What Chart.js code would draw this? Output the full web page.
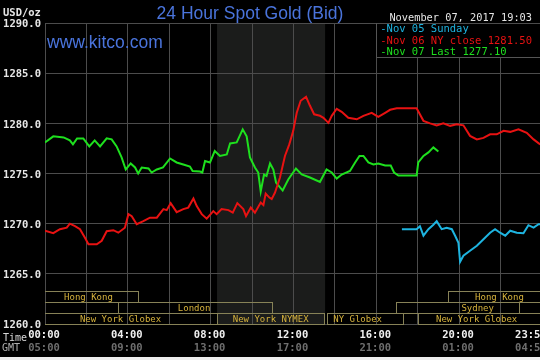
<!DOCTYPE html>
<html>
<head>
<meta charset="utf-8">
<script src="https://cdn.jsdelivr.net/npm/chart.js@4.4.0/dist/chart.umd.min.js"></script>
<style>
  html, body { margin: 0; padding: 0; background: #000; }
  #wrap { width: 540px; height: 360px; }
</style>
</head>
<body>
<div id="wrap"><canvas id="goldChart" width="540" height="360"></canvas></div>
<script>
// hours after 00:00 New York time, bid price in USD/oz
const sundayHours  = [17.24, 17.95, 18.11, 18.28, 18.52, 18.76, 18.92, 19.16, 19.4, 19.65, 19.81, 19.97, 20.05, 20.21, 20.53, 20.86, 21.18, 21.5, 21.74, 21.98, 22.23, 22.47, 22.79, 23.11, 23.35, 23.6, 23.84, 23.92];
const sundayPrices = [1269.45, 1269.45, 1269.75, 1268.8, 1269.45, 1269.9, 1270.25, 1269.45, 1269.6, 1269.45, 1268.8, 1268.1, 1266.2, 1266.8, 1267.3, 1267.8, 1268.45, 1269.1, 1269.45, 1269.1, 1268.8, 1269.3, 1269.1, 1269.05, 1269.85, 1269.6, 1269.95, 1269.95];

const mondayHours  = [0, 0.4, 0.72, 1.05, 1.2, 1.45, 1.69, 1.93, 2.1, 2.5, 2.74, 2.98, 3.3, 3.54, 3.86, 4.03, 4.19, 4.43, 4.75, 5.07, 5.4, 5.72, 5.88, 6.07, 6.36, 6.68, 6.92, 7.17, 7.33, 7.57, 7.81, 8.13, 8.29, 8.53, 8.86, 9.07, 9.29, 9.58, 9.71, 9.94, 10.14, 10.42, 10.55, 10.66, 10.84, 10.95, 11.11, 11.35, 11.59, 11.8, 11.99, 12.16, 12.35, 12.61, 12.8, 13.0, 13.28, 13.45, 13.69, 13.85, 14.09, 14.33, 14.65, 15.06, 15.38, 15.78, 16.1, 16.43, 16.67, 16.99, 17.95, 18.28, 18.6, 18.92, 19.24, 19.57, 19.89, 20.21, 20.53, 20.86, 21.18, 21.5, 21.82, 22.15, 22.47, 22.87, 23.27, 23.6, 23.92];
const mondayPrices = [1269.3, 1269.05, 1269.45, 1269.6, 1270.0, 1269.75, 1269.45, 1268.6, 1267.95, 1267.95, 1268.3, 1269.25, 1269.35, 1269.1, 1269.6, 1270.95, 1270.75, 1269.95, 1270.25, 1270.6, 1270.6, 1271.45, 1271.35, 1272.05, 1271.15, 1271.45, 1271.6, 1272.5, 1271.75, 1270.95, 1270.5, 1271.25, 1270.95, 1271.45, 1271.35, 1271.1, 1272.05, 1271.45, 1270.75, 1271.6, 1271.1, 1272.1, 1271.85, 1273.0, 1272.6, 1272.45, 1273.1, 1274.6, 1276.75, 1277.9, 1279.25, 1281.05, 1282.25, 1282.65, 1281.75, 1280.9, 1280.75, 1280.55, 1280.05, 1280.75, 1281.45, 1281.15, 1280.55, 1280.4, 1280.75, 1281.05, 1280.65, 1281.05, 1281.35, 1281.5, 1281.5, 1280.25, 1280.0, 1279.8, 1280.0, 1279.75, 1279.9, 1279.8, 1278.75, 1278.4, 1278.55, 1278.9, 1278.9, 1279.25, 1279.15, 1279.4, 1279.05, 1278.4, 1277.9];

const tuesdayHours  = [0, 0.4, 0.9, 1.2, 1.35, 1.55, 1.85, 2.14, 2.4, 2.66, 2.98, 3.22, 3.46, 3.7, 3.9, 4.14, 4.35, 4.5, 4.67, 5.0, 5.15, 5.4, 5.7, 6.04, 6.36, 6.68, 7.0, 7.13, 7.49, 7.6, 7.73, 7.97, 8.2, 8.45, 8.78, 8.94, 9.26, 9.55, 9.74, 9.9, 10.14, 10.3, 10.42, 10.58, 10.7, 10.87, 11.03, 11.16, 11.48, 11.75, 12.12, 12.4, 12.8, 13.28, 13.6, 13.85, 14.09, 14.33, 14.73, 14.98, 15.19, 15.38, 15.62, 15.86, 16.1, 16.43, 16.7, 16.86, 17.07, 17.95, 18.03, 18.28, 18.52, 18.76, 19.0];
const tuesdayPrices = [1278.1, 1278.7, 1278.6, 1278.3, 1277.9, 1278.5, 1278.5, 1277.7, 1278.3, 1277.7, 1278.5, 1278.4, 1277.7, 1276.6, 1275.4, 1276.0, 1275.6, 1275.0, 1275.6, 1275.5, 1275.1, 1275.4, 1275.6, 1276.5, 1276.1, 1275.9, 1275.7, 1275.25, 1275.2, 1275.1, 1276.25, 1276.1, 1277.25, 1276.75, 1276.9, 1278.0, 1278.1, 1279.4, 1278.7, 1276.6, 1275.6, 1275.1, 1273.2, 1274.9, 1274.75, 1276.0, 1275.4, 1274.1, 1273.3, 1274.4, 1275.5, 1274.9, 1274.6, 1274.15, 1275.4, 1275.1, 1274.5, 1274.9, 1275.25, 1276.1, 1276.75, 1276.75, 1276.1, 1275.9, 1276.0, 1275.8, 1275.8, 1275.1, 1274.8, 1274.8, 1276.1, 1276.75, 1277.1, 1277.6, 1277.2];

const seriesNames  = ['Nov 05 Sunday', 'Nov 06 NY close 1281.50', 'Nov 07 Last 1277.10'];
const seriesColors = ['#1eb4e0', '#e81212', '#1ee01e'];

const priceTicks = [1260, 1265, 1270, 1275, 1280, 1285, 1290];
const timeTickHours = [0, 4, 8, 12, 16, 20, 24];
const timeLabels = ['00:00', '04:00', '08:00', '12:00', '16:00', '20:00', '23:59'];
const gmtLabels  = ['05:00', '09:00', '13:00', '17:00', '21:00', '01:00', '04:59'];

// trading sessions: row 0 = top strip
const sessionNames   = ['Hong Kong', 'London', 'New York Globex', 'New York NYMEX', 'NY Globex', 'Sydney', 'Hong Kong', 'New York Globex'];
const sessionStarts  = [-2, 3.53, -6, 8.33, 13.62, 16.97, 19.47, 18.0];
const sessionEnds    = [4.5, 10.97, 8.3, 13.5, 17.3, 22.9, 26.5, 23.9];
const sessionRows    = [0, 1, 2, 2, 2, 1, 0, 2];
const sessionLabelAt = [2.1, 7.2, 3.65, 10.9, 15.1, 20.9, 21.95, 20.85];

const nymexShade = [8.31, 13.53];

const monoFont = '"DejaVu Sans Mono", "Liberation Mono", monospace';

function points(hours, prices) {
    return hours.map((h, i) => ({ x: h, y: prices[i] }));
}

const kitcoDecor = {
    id: 'kitcoDecor',
    beforeDraw(chart) {
        const { ctx, chartArea: a, scales: { x } } = chart;
        ctx.save();
        ctx.fillStyle = '#000';
        ctx.fillRect(0, 0, chart.width, chart.height);
        const s0 = x.getPixelForValue(nymexShade[0]);
        const s1 = x.getPixelForValue(nymexShade[1]);
        ctx.fillStyle = '#1b1c1b';
        ctx.fillRect(s0, a.top, s1 - s0, a.bottom - a.top);
        ctx.restore();
    },
    afterDraw(chart) {
        const { ctx, chartArea: a, scales: { x, y } } = chart;
        ctx.save();

        // session strips
        ctx.beginPath();
        ctx.rect(a.left, 0, a.right - a.left, chart.height);
        ctx.clip();
        ctx.lineWidth = 1;
        ctx.font = '9px ' + monoFont;
        ctx.textAlign = 'center';
        ctx.textBaseline = 'middle';
        sessionNames.forEach((name, i) => {
            const top = a.bottom - 33 + sessionRows[i] * 11;
            const x0 = Math.round(x.getPixelForValue(sessionStarts[i])) + 0.5;
            const x1 = Math.round(x.getPixelForValue(sessionEnds[i])) + 0.5;
            ctx.strokeStyle = '#878257';
            ctx.strokeRect(x0, top + 0.5, x1 - x0, 11);
            ctx.fillStyle = '#d6b23c';
            ctx.fillText(name, x.getPixelForValue(sessionLabelAt[i]), top + 6.5);
        });
        ctx.restore();
        ctx.save();

        // legend box
        const lx = x.getPixelForValue(16);
        ctx.fillStyle = '#000';
        ctx.fillRect(lx + 1, a.top + 1, a.right - lx, 33);
        ctx.strokeStyle = '#555';
        ctx.beginPath();
        ctx.moveTo(Math.round(lx) + 0.5, a.top);
        ctx.lineTo(Math.round(lx) + 0.5, a.top + 34.5);
        ctx.lineTo(a.right, a.top + 34.5);
        ctx.stroke();
        ctx.font = '10.5px ' + monoFont;
        ctx.textAlign = 'left';
        ctx.textBaseline = 'middle';
        seriesNames.forEach((name, i) => {
            ctx.fillStyle = seriesColors[i];
            ctx.fillText('-' + name, lx + 4, a.top + 6.5 + i * 11.5);
        });

        // price labels
        ctx.fillStyle = '#e6e6e6';
        ctx.font = 'bold 10.5px ' + monoFont;
        ctx.textAlign = 'right';
        priceTicks.forEach(v => {
            ctx.fillText(v.toFixed(1), 41, y.getPixelForValue(v) + 1.5);
        });
        ctx.textAlign = 'left';
        ctx.fillText('USD/oz', 3, 13);

        // time labels
        ctx.textAlign = 'center';
        timeTickHours.forEach((h, i) => {
            let px = x.getPixelForValue(h);
            if (i === timeTickHours.length - 1) px -= 10;
            ctx.fillStyle = '#f0f0f0';
            ctx.fillText(timeLabels[i], px - 1, 335);
            ctx.fillStyle = '#6e6e6e';
            ctx.fillText(gmtLabels[i], px - 1, 348);
        });
        ctx.font = '10px ' + monoFont;
        ctx.textAlign = 'right';
        ctx.fillStyle = '#d8d8d8';
        ctx.fillText('Time', 27, 338);
        ctx.fillStyle = '#b0b0b0';
        ctx.fillText('GMT', 20, 348);

        // header
        ctx.font = '10.3px ' + monoFont;
        ctx.fillStyle = '#e6e6e6';
        ctx.textAlign = 'right';
        ctx.fillText('November 07, 2017 19:03', 532, 18);
        ctx.font = '17.5px "Liberation Sans", Arial, sans-serif';
        ctx.fillStyle = '#4a74dc';
        ctx.textAlign = 'center';
        ctx.fillText('24 Hour Spot Gold (Bid)', 250, 14);
        ctx.textAlign = 'left';
        ctx.fillText('www.kitco.com', 47, 43);

        // light strip at the bottom of the image
        ctx.fillStyle = '#eeeeee';
        ctx.fillRect(0, 357, chart.width, 3);
        ctx.restore();
    }
};

new Chart(document.getElementById('goldChart'), {
    type: 'line',
    data: {
        datasets: [
            { label: seriesNames[0], data: points(sundayHours, sundayPrices), borderColor: seriesColors[0] },
            { label: seriesNames[1], data: points(mondayHours, mondayPrices), borderColor: seriesColors[1] },
            { label: seriesNames[2], data: points(tuesdayHours, tuesdayPrices), borderColor: seriesColors[2] }
        ]
    },
    options: {
        responsive: false,
        animation: false,
        devicePixelRatio: 1,
        layout: { padding: { left: 45, top: 23, right: 0, bottom: 36 } },
        elements: {
            line: { borderWidth: 2, tension: 0 },
            point: { radius: 0 }
        },
        plugins: { legend: { display: false }, tooltip: { enabled: false } },
        scales: {
            x: {
                type: 'linear',
                min: 0,
                max: 23.91,
                ticks: { display: false, stepSize: 2, includeBounds: false },
                grid: { color: '#4c4c4c', drawTicks: false },
                border: { color: '#4c4c4c' }
            },
            y: {
                min: 1260,
                max: 1290,
                ticks: { display: false, stepSize: 5 },
                grid: { color: '#4c4c4c', drawTicks: false },
                border: { color: '#4c4c4c' }
            }
        }
    },
    plugins: [kitcoDecor]
});
</script>
</body>
</html>
